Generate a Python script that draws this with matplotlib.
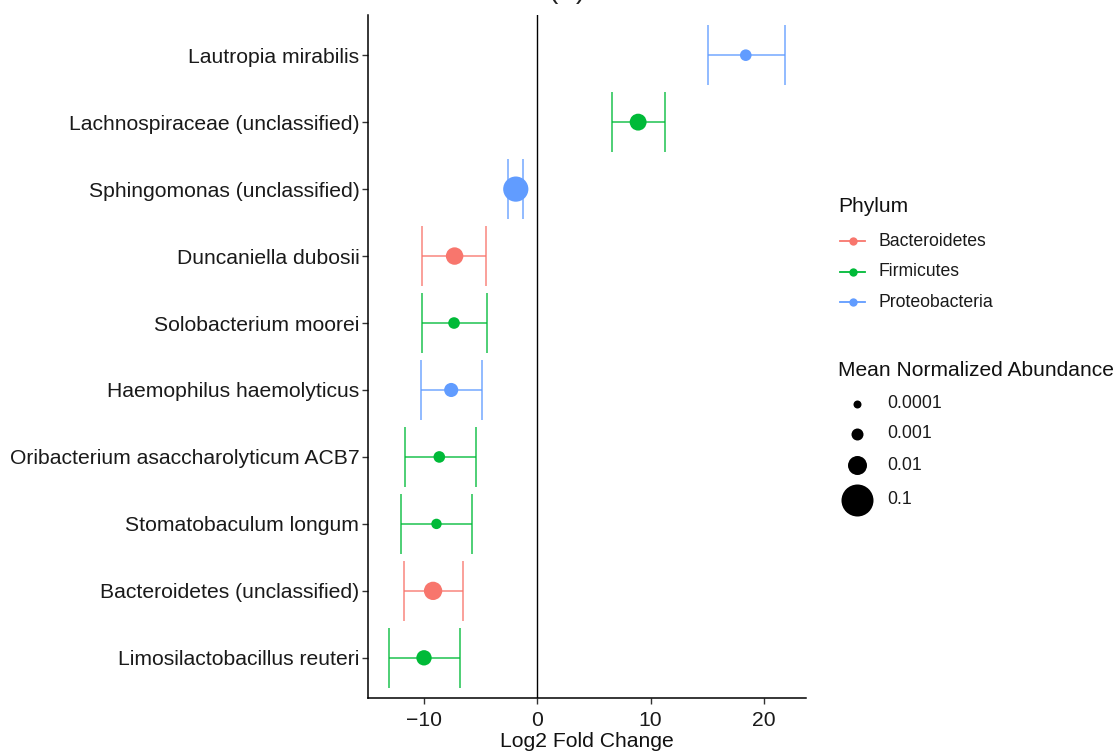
import numpy as np
import matplotlib
matplotlib.use('Agg')
import matplotlib.pyplot as plt
from matplotlib.lines import Line2D

plt.rcParams['font.family'] = ['Liberation Sans', 'DejaVu Sans']

# Data (top to bottom)
taxa = ['Lautropia mirabilis', 'Lachnospiraceae (unclassified)', 'Sphingomonas (unclassified)',
        'Duncaniella dubosii', 'Solobacterium moorei', 'Haemophilus haemolyticus',
        'Oribacterium asaccharolyticum ACB7', 'Stomatobaculum longum',
        'Bacteroidetes (unclassified)', 'Limosilactobacillus reuteri']
phylum = ['Proteobacteria', 'Firmicutes', 'Proteobacteria', 'Bacteroidetes', 'Firmicutes',
          'Proteobacteria', 'Firmicutes', 'Firmicutes', 'Bacteroidetes', 'Firmicutes']
lfc = [18.4, 8.9, -1.9, -7.3, -7.35, -7.6, -8.65, -8.9, -9.2, -10.0]
lo = [15.1, 6.6, -2.56, -10.2, -10.2, -10.3, -11.7, -12.05, -11.8, -13.1]
hi = [21.9, 11.3, -1.24, -4.5, -4.4, -4.9, -5.4, -5.8, -6.6, -6.8]
abund = [0.0008, 0.005, 0.03, 0.006, 0.0008, 0.002, 0.0008, 0.0004, 0.008, 0.003]

phyla = ['Bacteroidetes', 'Firmicutes', 'Proteobacteria']
colors = {'Bacteroidetes': '#F8766D', 'Firmicutes': '#00BA38', 'Proteobacteria': '#619CFF'}
size_breaks = [0.0001, 0.001, 0.01, 0.1]
size_labels = ['0.0001', '0.001', '0.01', '0.1']
size_px = [8, 12, 19, 32]

def diam_pts(a):
    return np.interp(np.log10(a), np.log10(size_breaks), size_px) * 0.72

W, H = 1116, 752
fig = plt.figure(figsize=(W / 100, H / 100), dpi=100)
ax = fig.add_axes([367.7 / W, 1 - 698 / H, (805.7 - 367.7) / W, (698 - 15) / H])

n = len(taxa)
ypos = np.arange(n)[::-1] + 1

ax.axvline(0, color='black', lw=1.0, zorder=1)
for i in range(n):
    c = colors[phylum[i]]
    y = ypos[i]
    ax.hlines(y, lo[i], hi[i], color=c, lw=1.3, alpha=0.75, zorder=2)
    ax.vlines([lo[i], hi[i]], y - 0.45, y + 0.45, color=c, lw=1.3, alpha=0.75, zorder=2)
    ax.scatter(lfc[i], y, s=diam_pts(abund[i]) ** 2, color=c, edgecolors='none', zorder=3)

ax.set_xlim(-14.97, 23.69)
ax.set_ylim(0.4, n + 0.6)
ax.set_yticks(ypos)
ax.set_yticklabels(taxa)
ax.set_xticks([-10, 0, 10, 20])
ax.set_xticklabels(['\u221210', '0', '10', '20'])
for s in ['top', 'right']:
    ax.spines[s].set_visible(False)
for s in ['left', 'bottom']:
    ax.spines[s].set_linewidth(1.1)
ax.tick_params(axis='y', length=4, width=1.0, color='#333333', labelsize=15.2,
               labelcolor='#1a1a1a', pad=2)
ax.tick_params(axis='x', length=4, width=1.0, color='#333333', labelsize=15.2,
               labelcolor='#1a1a1a', pad=5)
ax.set_xlabel('Log2 Fold Change', fontsize=15.2, color='#111111', labelpad=2)

# title (mostly cut off at top, as in the source image)
fig.text(567 / W, 1 + 2 / H, '(A)', ha='center', va='baseline', fontsize=20, color='#222222')

# Phylum legend
fig.text(838 / W, 1 - 206 / H, 'Phylum', ha='left', va='center', fontsize=15.1, color='#111111')
for k, p in enumerate(phyla):
    yk = 1 - (241 + 30.5 * k) / H
    fig.add_artist(Line2D([840 / W, 865 / W], [yk, yk], transform=fig.transFigure,
                          color=colors[p], lw=1.3))
    fig.add_artist(Line2D([852.5 / W], [yk], transform=fig.transFigure, marker='o',
                          markersize=6, color=colors[p], markeredgewidth=0))
    fig.text(878 / W, yk, p, ha='left', va='center', fontsize=12.7, color='#1a1a1a')

# Size legend
fig.text(838 / W, 1 - 370 / H, 'Mean Normalized Abundance', ha='left', va='center',
         fontsize=15.1, color='#111111')
size_y = [404, 434, 465, 500]
for k, b in enumerate(size_breaks):
    yk = 1 - size_y[k] / H
    fig.add_artist(Line2D([856.7 / W], [yk], transform=fig.transFigure, marker='o',
                          markersize=size_px[k] * 0.72, color='black', markeredgewidth=0))
    fig.text(887 / W, yk, size_labels[k], ha='left', va='center',
             fontsize=12.7, color='#1a1a1a')

fig.savefig('out.png', dpi=100)
